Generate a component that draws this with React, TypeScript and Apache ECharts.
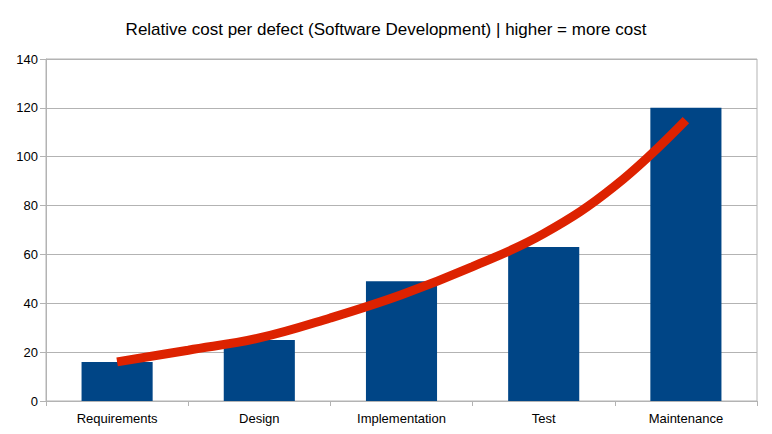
import React, { useEffect, useRef } from "react";
import * as echarts from "echarts";

const categories = ["Requirements", "Design", "Implementation", "Test", "Maintenance"];
const costValues = [16, 25, 49, 63, 120];
// trend line at category centres and midpoints between them
const trendPositions = [0, 0.5, 1, 1.5, 2, 2.5, 3, 3.5, 4];
const trendValues = [16, 20.8, 25.8, 34, 43.5, 55, 68.5, 88, 115];
const titleText = "Relative cost per defect (Software Development) | higher = more cost";

export default function App() {
  const ref = useRef<HTMLDivElement>(null);
  useEffect(() => {
    if (!ref.current) return;
    const chart = echarts.init(ref.current, null, { renderer: "svg" });
    const font = "'Liberation Sans', Arial, sans-serif";
    chart.setOption({
      animation: false,
      backgroundColor: "#ffffff",
      title: {
        text: titleText,
        left: "center",
        top: 16,
        textStyle: { fontFamily: font, fontSize: 17, fontWeight: "normal", color: "#000000" },
      },
      grid: {
        left: 46,
        right: 15,
        top: 59,
        bottom: 33,
        show: true,
        borderColor: "#b3b3b3",
        borderWidth: 1,
      },
      xAxis: [
        {
          type: "category",
          data: categories,
          axisLine: { show: true, onZero: false, lineStyle: { color: "#b3b3b3" } },
          axisTick: { show: true, length: 5, lineStyle: { color: "#b3b3b3" } },
          axisLabel: { fontFamily: font, fontSize: 13, color: "#000000", margin: 11 },
        },
        {
          type: "value",
          min: -0.5,
          max: 4.5,
          show: false,
          axisLine: { onZero: false },
          splitLine: { show: false },
        },
      ],
      yAxis: {
        type: "value",
        min: 0,
        max: 140,
        interval: 20,
        axisLine: { show: true, onZero: false, lineStyle: { color: "#b3b3b3" } },
        axisTick: { show: true, length: 6, lineStyle: { color: "#b3b3b3" } },
        axisLabel: { fontFamily: font, fontSize: 13, color: "#000000", margin: 8 },
        splitLine: { show: true, lineStyle: { color: "#b3b3b3", width: 1 } },
      },
      series: [
        {
          type: "bar",
          data: costValues,
          barWidth: "50%",
          itemStyle: { color: "#004586" },
        },
        {
          type: "line",
          xAxisIndex: 1,
          data: trendPositions.map((x, i) => [x, trendValues[i]]),
          smooth: 0.4,
          symbol: "none",
          lineStyle: { color: "#dd2200", width: 9, cap: "butt" },
          z: 5,
        },
      ],
    });
    return () => chart.dispose();
  }, []);
  return (
    <div
      ref={ref}
      style={{ position: "absolute", left: 0, top: 0, width: 772, height: 434 }}
    />
  );
}
